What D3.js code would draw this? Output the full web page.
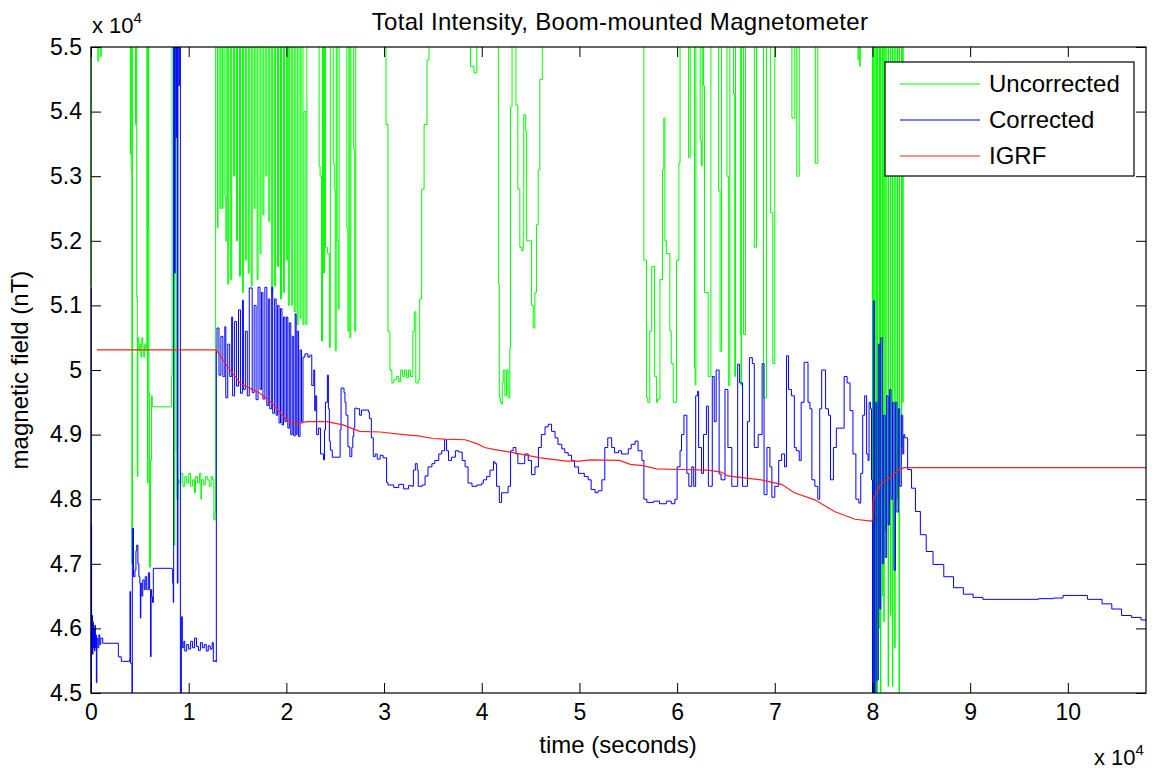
<!DOCTYPE html>
<html><head><meta charset="utf-8">
<script src="https://cdn.jsdelivr.net/npm/d3@7"></script>
<style>
body{margin:0;background:#fff}
svg{display:block}
text{font-family:Arial,"Liberation Sans",Helvetica,sans-serif;fill:#000}
</style>
</head><body>
<svg id="chart" width="1152" height="772"></svg>
<script>
// ---- data (time in 1e4 s, field in 1e4 nT) ----
const titleText = "Total Intensity, Boom-mounted Magnetometer";
const xLabel = "time (seconds)";
const yLabel = "magnetic field (nT)";
const xTicks = [0,1,2,3,4,5,6,7,8,9,10];
const yTicks = [4.5,4.6,4.7,4.8,4.9,5.0,5.1,5.2,5.3,5.4,5.5];
const legendNames = ["Uncorrected","Corrected","IGRF"];

const igrf = [[0.06,5.031],[1.28,5.031],[1.4,5.005],[1.53,4.979],[1.73,4.964],[1.85,4.949],[2.0,4.923],[2.1,4.916],[2.21,4.92],[2.41,4.92],[2.58,4.915],[2.75,4.905],[2.96,4.904],[3.2,4.9],[3.35,4.898],[3.5,4.894],[3.62,4.893],[3.83,4.892],[3.95,4.886],[4.03,4.880],[4.12,4.877],[4.32,4.872],[4.6,4.864],[4.87,4.859],[5.0,4.859],[5.11,4.861],[5.41,4.860],[5.52,4.854],[5.65,4.852],[5.79,4.847],[6.03,4.846],[6.32,4.845],[6.45,4.842],[6.52,4.836],[6.69,4.833],[6.86,4.830],[7.07,4.823],[7.2,4.810],[7.41,4.799],[7.61,4.781],[7.82,4.769],[7.99,4.766],[8.0,4.768],[8.01,4.80],[8.08,4.823],[8.18,4.834],[8.28,4.847],[8.33,4.849],[10.8,4.849]];

const corrected = [[0,5.127],[0.002,4.45],[0.004,4.76],[0.006,4.57],[0.01,4.62],[0.015,4.56],[0.02,4.61],[0.025,4.57],[0.03,4.60],[0.035,4.565],[0.04,4.605],[0.045,4.57],[0.05,4.59],[0.055,4.516],[0.06,4.585],[0.07,4.57],[0.08,4.59],[0.09,4.575],[0.1,4.585],[0.12,4.577],[0.28,4.556],[0.31,4.549],[0.395,4.552],[0.399,4.657],[0.405,4.546],[0.42,4.4],[0.423,4.755],[0.435,4.68],[0.45,4.69],[0.46,4.72],[0.468,4.729],[0.48,4.70],[0.49,4.68],[0.50,4.67],[0.505,4.616],[0.51,4.67],[0.52,4.65],[0.53,4.675],[0.545,4.66],[0.555,4.68],[0.57,4.66],[0.587,4.686],[0.60,4.66],[0.61,4.556],[0.615,4.66],[0.621,4.649],[0.63,4.64],[0.638,4.693],[0.826,4.692],[0.836,4.67],[0.842,4.64],[0.846,5.6],[0.855,5.15],[0.862,5.6],[0.872,5.36],[0.878,5.6],[0.884,4.67],[0.89,5.6],[0.9,5.44],[0.905,5.6],[0.915,4.4],[0.925,4.618],[0.935,4.57],[0.95,4.58],[0.96,4.565],[0.98,4.575],[1.0,4.568],[1.02,4.58],[1.04,4.57],[1.06,4.585],[1.08,4.572],[1.1,4.566],[1.12,4.578],[1.14,4.57],[1.16,4.575],[1.18,4.565],[1.2,4.573],[1.22,4.568],[1.24,4.578],[1.252,4.549],[1.27,4.55],[1.28,4.548],
[1.283,5.03],[1.29,5.065],[1.31,4.992],[1.33,5.052],[1.35,4.99],[1.37,5.067],[1.38,4.957],[1.40,5.04],[1.42,4.99],[1.44,5.082],[1.45,4.96],[1.47,5.075],[1.49,4.975],[1.51,5.093],[1.53,4.964],[1.55,5.108],[1.56,4.97],[1.58,5.06],[1.60,4.96],[1.62,5.127],[1.65,4.965],[1.67,5.10],[1.69,4.954],[1.71,5.128],[1.73,4.97],[1.745,5.12],[1.76,4.955],[1.78,5.128],[1.80,4.945],[1.815,5.11],[1.83,4.94],[1.85,5.128],[1.86,4.933],[1.88,5.11],[1.895,4.93],[1.91,5.10],[1.925,4.918],[1.94,5.095],[1.955,4.915],[1.97,5.082],[1.985,4.92],[2.0,5.082],[2.015,4.91],[2.03,5.073],[2.045,4.90],[2.06,5.052],[2.075,4.898],[2.09,5.087],[2.10,4.90],[2.11,5.06],[2.125,4.897],[2.14,5.031],[2.155,4.92],[2.17,5.02],[2.19,5.025],[2.22,5.02],[2.24,5.023],[2.26,4.976],[2.28,5.0],[2.29,4.937],[2.30,4.96],[2.31,4.90],[2.33,4.91],[2.35,4.87],[2.37,4.87],[2.38,4.861],[2.39,4.907],[2.40,4.95],[2.42,4.992],[2.43,4.94],[2.44,4.89],[2.45,4.876],[2.47,4.865],[2.54,4.865],[2.55,4.907],[2.56,4.972],[2.59,4.965],[2.60,4.95],[2.61,4.93],[2.63,4.881],[2.65,4.866],[2.67,4.88],[2.68,4.897],[2.69,4.91],[2.70,4.941],[2.72,4.94],[2.75,4.93],[2.77,4.938],[2.84,4.935],[2.85,4.925],[2.87,4.895],[2.89,4.866],[2.91,4.87],[2.93,4.862],[2.96,4.868],[2.99,4.864],[3.026,4.826],[3.04,4.822],[3.1,4.818],[3.15,4.823],[3.2,4.816],[3.25,4.821],[3.28,4.82],[3.30,4.845],[3.32,4.855],[3.34,4.845],[3.35,4.82],[3.39,4.822],[3.42,4.836],[3.45,4.85],[3.49,4.855],[3.52,4.86],[3.56,4.87],[3.59,4.875],[3.62,4.892],[3.64,4.875],[3.66,4.86],[3.69,4.865],[3.73,4.875],[3.76,4.873],[3.80,4.86],[3.83,4.85],[3.86,4.825],[3.9,4.82],[3.95,4.822],[4.0,4.825],[4.016,4.83],[4.05,4.835],[4.084,4.845],[4.12,4.858],[4.135,4.855],[4.152,4.82],[4.18,4.795],[4.203,4.81],[4.237,4.81],[4.27,4.82],[4.295,4.875],[4.322,4.88],[4.35,4.87],[4.37,4.855],[4.41,4.855],[4.44,4.87],[4.476,4.86],[4.51,4.838],[4.545,4.85],[4.58,4.88],[4.61,4.90],[4.648,4.912],[4.68,4.916],[4.715,4.905],[4.75,4.895],[4.78,4.885],[4.82,4.878],[4.85,4.872],[4.885,4.868],[4.92,4.86],[4.95,4.85],[4.99,4.84],[5.02,4.84],[5.05,4.835],[5.09,4.83],[5.12,4.815],[5.16,4.81],[5.19,4.813],[5.23,4.83],[5.26,4.88],[5.29,4.895],[5.33,4.88],[5.36,4.872],[5.40,4.875],[5.43,4.87],[5.46,4.87],[5.50,4.878],[5.53,4.885],[5.57,4.89],[5.60,4.875],[5.64,4.86],[5.66,4.80],[5.69,4.795],[5.76,4.797],[5.82,4.793],[5.89,4.797],[5.94,4.793],[5.977,4.80],
[6.0,4.85],[6.03,4.875],[6.045,4.90],[6.07,4.93],[6.1,4.84],[6.12,4.82],[6.15,4.85],[6.17,4.82],[6.19,4.96],[6.21,4.967],[6.22,4.88],[6.25,4.84],[6.27,4.90],[6.3,4.944],[6.32,4.82],[6.33,4.82],[6.36,4.99],[6.38,4.92],[6.4,5.0],[6.43,4.839],[6.45,4.83],[6.49,4.97],[6.52,4.88],[6.56,4.82],[6.59,4.82],[6.62,5.009],[6.64,4.98],[6.67,4.82],[6.69,4.82],[6.72,4.92],[6.74,5.019],[6.77,5.01],[6.79,4.88],[6.83,4.90],[6.87,5.01],[6.89,4.807],[6.92,4.88],[6.95,4.85],[6.97,4.803],[7.0,4.82],[7.04,4.86],[7.07,4.87],[7.1,4.85],[7.12,5.022],[7.14,4.97],[7.17,4.96],[7.2,4.88],[7.22,4.875],[7.25,4.86],[7.27,4.95],[7.3,5.012],[7.34,4.95],[7.36,4.94],[7.38,4.83],[7.41,4.82],[7.44,4.80],[7.46,4.94],[7.48,5.0],[7.52,4.94],[7.55,4.93],[7.57,4.83],[7.6,4.88],[7.63,4.91],[7.66,4.91],[7.71,4.99],[7.74,4.98],[7.77,4.937],[7.8,4.87],[7.83,4.80],[7.86,4.794],[7.88,4.84],[7.9,4.93],[7.92,4.96],[7.94,4.87],[7.955,4.86],[7.965,4.95],[7.98,4.94],[7.99,4.83],
[8.0,4.4],[8.008,5.107],[8.02,4.4],[8.035,4.95],[8.045,4.52],[8.06,5.04],[8.075,4.63],[8.085,5.05],[8.1,4.70],[8.115,4.93],[8.13,4.71],[8.145,4.96],[8.16,4.76],[8.175,4.97],[8.19,4.80],[8.205,4.95],[8.22,4.69],[8.235,4.95],[8.25,4.78],[8.265,4.94],[8.28,4.82],[8.295,4.93],[8.31,4.87],[8.32,4.90],
[8.33,4.895],[8.36,4.846],[8.4,4.817],[8.44,4.781],[8.49,4.745],[8.55,4.719],[8.62,4.699],[8.73,4.68],[8.83,4.663],[8.93,4.653],[9.03,4.648],[9.13,4.645],[9.5,4.645],[9.7,4.646],[9.85,4.647],[9.95,4.651],[10.1,4.651],[10.2,4.645],[10.35,4.638],[10.45,4.63],[10.55,4.62],[10.65,4.617],[10.75,4.613],[10.8,4.614]];

const uncorrected = [[0,5.13],[0.001,5.6],[0.065,5.6],[0.07,5.478],[0.08,5.6],[0.095,5.485],[0.105,5.6],[0.40,5.6],[0.403,5.335],[0.408,5.6],[0.412,5.31],[0.418,4.70],[0.424,5.6],[0.452,5.6],[0.456,5.38],[0.462,5.6],[0.468,5.113],[0.474,4.835],[0.48,5.05],[0.49,5.03],[0.50,5.04],[0.51,5.02],[0.52,5.05],[0.53,5.035],[0.54,5.02],[0.55,5.04],[0.56,5.03],[0.572,5.6],[0.578,4.825],[0.584,5.6],[0.588,5.22],[0.593,4.964],[0.598,4.695],[0.61,4.86],[0.62,4.96],[0.627,4.943],[0.815,4.943],[0.825,4.99],[0.83,5.6],[0.845,5.6],[0.85,4.729],[0.858,5.6],[0.868,5.6],[0.872,4.875],[0.88,4.80],[0.89,4.83],[0.9,4.825],[0.92,4.84],[0.94,4.82],[0.96,4.835],[0.98,4.825],[1.0,4.84],[1.02,4.82],[1.04,4.83],[1.06,4.81],[1.07,4.835],[1.09,4.825],[1.11,4.84],[1.125,4.80],[1.13,4.83],[1.15,4.822],[1.17,4.835],[1.19,4.83],[1.21,4.82],[1.23,4.835],[1.245,4.83],[1.258,4.768],[1.27,4.78],[1.276,5.6],
[1.29,5.6],[1.295,5.22],[1.30,5.6],[1.32,5.25],[1.33,5.6],[1.345,5.25],[1.35,5.6],[1.37,5.27],[1.38,5.20],[1.39,5.6],[1.40,5.133],[1.41,5.6],[1.43,5.14],[1.44,5.6],[1.46,5.30],[1.47,5.6],[1.49,5.2],[1.50,5.6],[1.52,5.145],[1.53,5.6],[1.55,5.12],[1.56,5.6],[1.58,5.17],[1.59,5.6],[1.61,5.15],[1.62,5.6],[1.64,5.13],[1.65,5.6],[1.67,5.25],[1.68,5.6],[1.70,5.14],[1.71,5.6],[1.73,5.18],[1.74,5.6],[1.76,5.24],[1.77,5.6],[1.79,5.30],[1.80,5.6],[1.82,5.23],[1.83,5.6],[1.85,5.12],[1.86,5.6],[1.88,5.13],[1.89,5.6],[1.91,5.16],[1.92,5.6],[1.94,5.11],[1.95,5.6],[1.97,5.12],[1.98,5.6],[2.0,5.17],[2.01,5.6],[2.02,5.10],[2.03,5.6],[2.05,5.2],[2.055,5.10],[2.06,5.6],[2.08,5.09],[2.09,5.6],[2.11,5.07],[2.12,5.6],[2.14,5.08],[2.15,5.6],[2.17,5.07],[2.18,5.4],[2.20,5.07],[2.21,5.6],[2.33,5.6],[2.335,5.316],[2.345,5.3],[2.36,5.045],[2.37,5.6],[2.38,5.15],[2.39,5.6],[2.40,5.19],[2.42,5.18],[2.44,5.035],[2.45,5.6],[2.48,5.32],[2.49,5.28],[2.50,5.03],[2.51,5.6],[2.52,5.2],[2.53,5.094],[2.54,5.6],[2.61,5.6],[2.62,5.218],[2.63,5.06],[2.64,5.6],[2.65,5.05],[2.66,5.6],[2.69,5.34],[2.70,5.06],[2.71,5.6],
[3.005,5.6],[3.02,5.38],[3.04,5.06],[3.06,5.0],[3.08,4.98],[3.1,4.985],[3.13,4.99],[3.15,4.982],[3.17,5.0],[3.19,4.99],[3.21,5.0],[3.23,4.988],[3.25,5.0],[3.27,4.99],[3.295,5.06],[3.31,5.09],[3.325,4.98],[3.35,4.985],[3.365,5.11],[3.385,5.28],[3.41,5.38],[3.44,5.48],[3.46,5.6],[3.88,5.6],[3.885,5.47],[3.92,5.46],[3.95,5.6],
[4.168,5.6],[4.17,5.133],[4.18,4.957],[4.19,4.95],[4.204,4.947],[4.21,4.98],[4.22,5.0],[4.237,4.96],[4.254,5.0],[4.27,4.957],[4.288,5.035],[4.295,5.407],[4.31,5.6],[4.345,5.6],[4.35,5.41],[4.37,5.28],[4.39,5.19],[4.41,5.185],[4.425,5.21],[4.43,5.395],[4.45,5.37],[4.46,5.2],[4.49,5.2],[4.51,5.1],[4.527,5.065],[4.544,5.12],[4.56,5.225],[4.578,5.31],[4.595,5.45],[4.62,5.6],
[5.655,5.6],[5.66,5.17],[5.687,4.957],[5.70,4.95],[5.72,5.06],[5.74,5.16],[5.755,5.16],[5.77,4.99],[5.79,4.95],[5.80,4.955],[5.824,5.14],[5.85,5.31],[5.864,5.39],[5.875,5.2],[5.89,5.18],[5.926,5.06],[5.94,5.01],[5.96,4.95],[5.994,5.17],[6.018,5.32],[6.03,5.6],
[6.114,5.6],[6.118,5.329],[6.134,5.6],[6.175,5.6],[6.178,5.003],[6.185,4.977],[6.192,5.6],[6.233,5.6],[6.236,5.355],[6.248,5.316],[6.257,5.6],[6.27,5.44],[6.28,5.12],[6.30,5.12],[6.318,4.99],[6.346,5.6],[6.42,5.6],[6.425,5.277],[6.44,5.029],[6.455,5.6],[6.506,5.6],[6.51,5.30],[6.525,4.976],[6.54,5.6],[6.574,5.6],[6.578,5.427],[6.59,4.99],[6.598,5.6],[6.643,5.6],[6.647,5.055],[6.655,4.976],[6.66,5.6],[6.677,5.6],[6.68,5.055],[6.70,5.6],[6.786,5.6],[6.79,5.19],[6.813,5.6],[6.881,5.6],[6.885,4.957],[6.915,5.6],[6.95,5.6],[6.955,5.244],[6.98,5.01],[7.0,5.6],[7.17,5.6],[7.175,5.39],[7.205,5.6],[7.22,5.6],[7.225,5.30],[7.25,5.6],[7.41,5.6],[7.415,5.32],[7.44,5.6],[7.85,5.6],[7.852,5.48],[7.86,5.6],[7.87,5.47],[7.875,5.6],
[7.99,5.6],[8.0,4.4],[8.004,5.6],[8.013,4.4],[8.017,5.6],[8.034,4.4],[8.038,5.6],[8.047,4.45],[8.051,5.6],[8.068,4.6],[8.072,5.6],[8.082,4.4],[8.086,5.6],[8.102,4.65],[8.106,5.6],[8.116,4.61],[8.12,5.6],[8.136,4.75],[8.14,5.6],[8.16,4.51],[8.164,5.6],[8.184,4.62],[8.188,5.6],[8.204,4.51],[8.208,5.6],[8.228,4.57],[8.232,5.6],[8.252,4.8],[8.256,5.6],[8.272,4.4],[8.276,5.6],[8.296,4.88],[8.30,5.6],[8.31,4.95],[8.314,5.6],[10.8,5.6]];

// ---- layout ----
const svg = d3.select("#chart");
const L = 91, R = 1146, T = 47, B = 693;
const x = d3.scaleLinear().domain([0, 10.8]).range([L, R]);
const y = d3.scaleLinear().domain([4.5, 5.5]).range([B, T]);
const fmt = d => String(+d.toFixed(1));

svg.append("rect").attr("width",1152).attr("height",772).attr("fill","#fff");

svg.append("defs").append("clipPath").attr("id","clip")
  .append("rect").attr("x",L-1).attr("y",T).attr("width",R-L+2).attr("height",B-T);

const plot = svg.append("g").attr("clip-path","url(#clip)");
const stepLine = d3.line().x(d=>x(d[0])).y(d=>y(d[1])).curve(d3.curveStepAfter);
const linLine = d3.line().x(d=>x(d[0])).y(d=>y(d[1]));

plot.append("path").datum(uncorrected).attr("d",stepLine)
  .attr("fill","none").attr("stroke","#00ff00").attr("stroke-width",1);
plot.append("path").datum(corrected).attr("d",stepLine)
  .attr("fill","none").attr("stroke","#0000ff").attr("stroke-width",1);
plot.append("path").datum(igrf).attr("d",linLine)
  .attr("fill","none").attr("stroke","#ff2020").attr("stroke-width",1.2);

// axes
const tickFont = 23;
function styleAxis(g){
  g.select(".domain").remove();
  g.selectAll(".tick line").attr("stroke","#000");
  g.selectAll("text").attr("font-size",tickFont).attr("fill","#000")
    .attr("font-family","Arial, 'Liberation Sans', sans-serif");
}
svg.append("g").attr("transform",`translate(0,${B})`)
  .call(d3.axisBottom(x).tickValues(xTicks).tickFormat(fmt).tickSize(-10).tickPadding(11))
  .call(styleAxis);
svg.append("g").attr("transform",`translate(0,${T})`)
  .call(d3.axisTop(x).tickValues(xTicks).tickFormat("").tickSize(-10))
  .call(styleAxis);
svg.append("g").attr("transform",`translate(${L},0)`)
  .call(d3.axisLeft(y).tickValues(yTicks).tickFormat(fmt).tickSize(-10).tickPadding(9))
  .call(styleAxis);
svg.append("g").attr("transform",`translate(${R},0)`)
  .call(d3.axisRight(y).tickValues(yTicks).tickFormat("").tickSize(-10))
  .call(styleAxis);

svg.append("rect").attr("x",L).attr("y",T).attr("width",R-L).attr("height",B-T)
  .attr("fill","none").attr("stroke","#000").attr("stroke-width",1.2);

// exponent labels
const ex1 = svg.append("text").attr("x",92).attr("y",33).attr("font-size",22);
ex1.append("tspan").text("x 10");
ex1.append("tspan").attr("dy",-10).attr("font-size",15).text("4");
const ex2 = svg.append("text").attr("x",1094).attr("y",765).attr("font-size",22);
ex2.append("tspan").text("x 10");
ex2.append("tspan").attr("dy",-10).attr("font-size",15).text("4");

// title & labels
svg.append("text").attr("x",620).attr("y",30).attr("text-anchor","middle")
  .attr("font-size",24).attr("letter-spacing",0.3).text(titleText);
svg.append("text").attr("x",618).attr("y",753).attr("text-anchor","middle")
  .attr("font-size",24).text(xLabel);
svg.append("text").attr("transform","translate(28,370) rotate(-90)")
  .attr("text-anchor","middle").attr("font-size",24).text(yLabel);

// legend
const colors = ["#00ff00","#0000ff","#ff2020"];
const lg = svg.append("g");
lg.append("rect").attr("x",885).attr("y",62).attr("width",249).attr("height",114)
  .attr("fill","#fff").attr("stroke","#000").attr("stroke-width",1.2);
legendNames.forEach((n,i)=>{
  const yy = 84 + i*36;
  lg.append("line").attr("x1",900).attr("x2",980).attr("y1",yy).attr("y2",yy)
    .attr("stroke",colors[i]).attr("stroke-width",1);
  lg.append("text").attr("x",989).attr("y",yy+8).attr("font-size",24).text(n);
});
</script>
</body></html>
